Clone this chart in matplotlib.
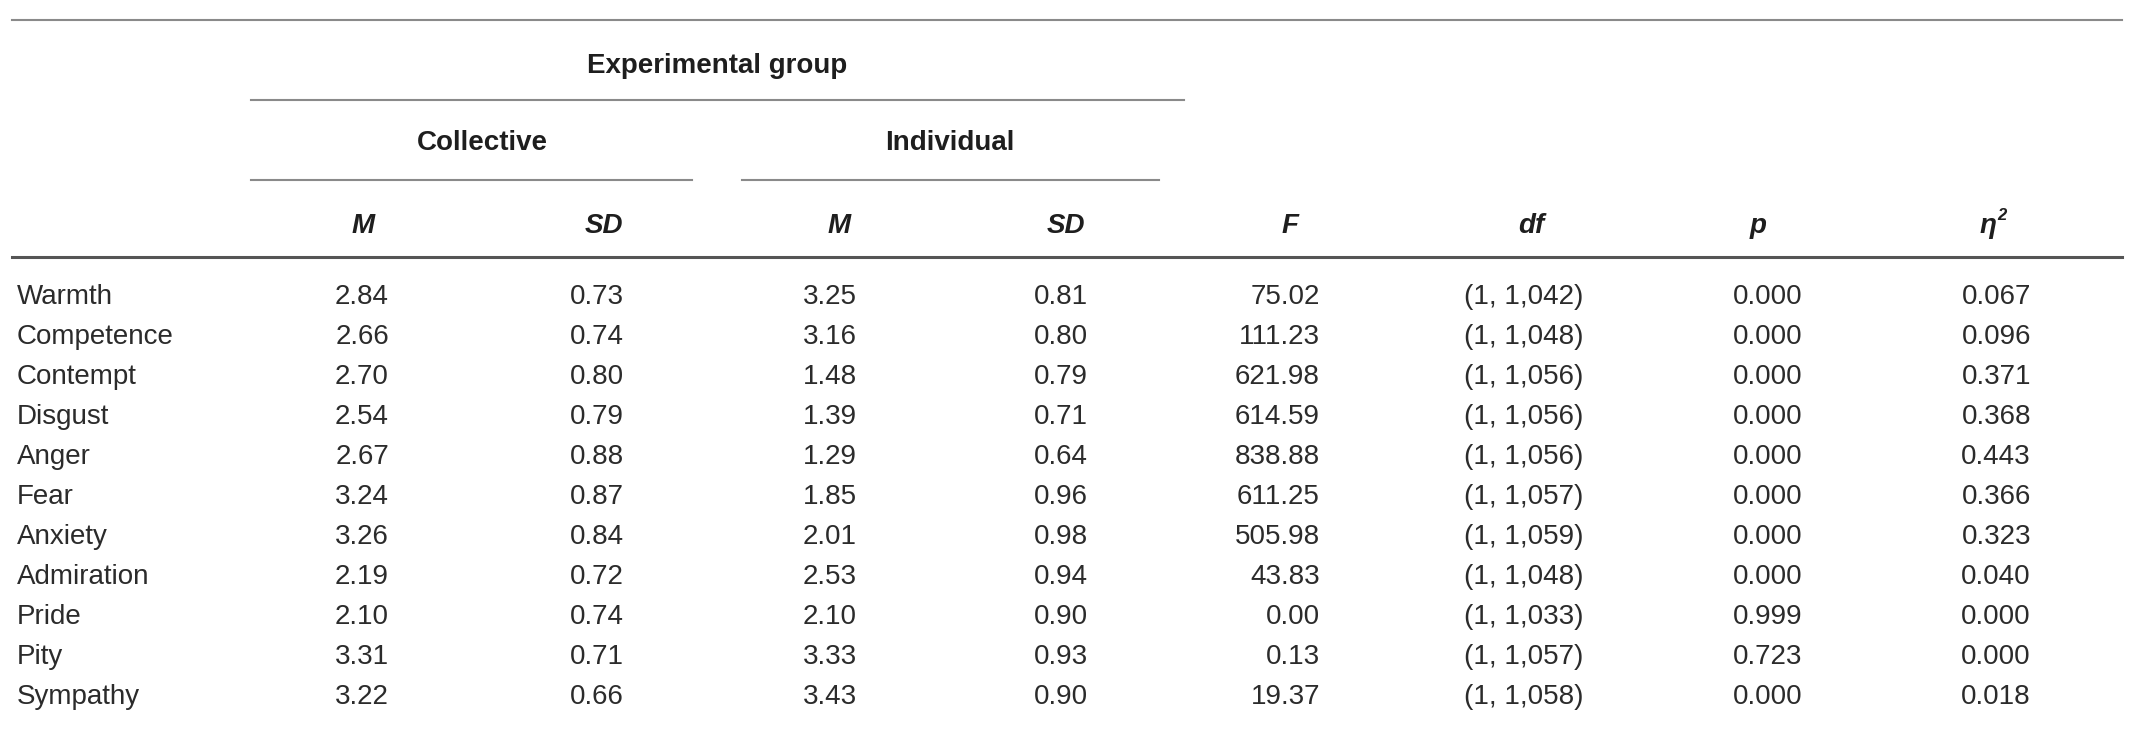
import matplotlib.pyplot as plt

# table data
emotions = ['Warmth', 'Competence', 'Contempt', 'Disgust', 'Anger', 'Fear',
            'Anxiety', 'Admiration', 'Pride', 'Pity', 'Sympathy']
coll_m = [2.84, 2.66, 2.70, 2.54, 2.67, 3.24, 3.26, 2.19, 2.10, 3.31, 3.22]
coll_sd = [0.73, 0.74, 0.80, 0.79, 0.88, 0.87, 0.84, 0.72, 0.74, 0.71, 0.66]
ind_m = [3.25, 3.16, 1.48, 1.39, 1.29, 1.85, 2.01, 2.53, 2.10, 3.33, 3.43]
ind_sd = [0.81, 0.80, 0.79, 0.71, 0.64, 0.96, 0.98, 0.94, 0.90, 0.93, 0.90]
f_vals = [75.02, 111.23, 621.98, 614.59, 838.88, 611.25, 505.98, 43.83, 0.00, 0.13, 19.37]
df_den = [1042, 1048, 1056, 1056, 1056, 1057, 1059, 1048, 1033, 1057, 1058]
p_vals = [0.000, 0.000, 0.000, 0.000, 0.000, 0.000, 0.000, 0.000, 0.999, 0.723, 0.000]
eta_sq = [0.067, 0.096, 0.371, 0.368, 0.443, 0.366, 0.323, 0.040, 0.000, 0.000, 0.018]

col_heads = ['M', 'SD', 'M', 'SD', 'F', 'df', 'p']

# layout (pixels)
W, H = 2140, 731
head_x = [363, 604, 839, 1066, 1290, 1531, 1758, 1990]
data_right = [389, 624, 857, 1088, 1320, 1583, 1802, 2031]
row_y0, row_step = 294, 40
fs = 20
txt = '#2b2b2b'
plt.rcParams['font.family'] = ['Liberation Sans', 'DejaVu Sans']

fig = plt.figure(figsize=(W / 100, H / 100), dpi=100)
ax = fig.add_axes([0, 0, 1, 1])
ax.set_xlim(0, W)
ax.set_ylim(H, 0)
ax.axis('off')

# rules
ax.plot([12, 2122], [20, 20], color='#8a8a8a', lw=1.5)
ax.plot([251, 1184], [100, 100], color='#8a8a8a', lw=1.5)
ax.plot([251, 692], [180, 180], color='#8a8a8a', lw=1.5)
ax.plot([742, 1159], [180, 180], color='#8a8a8a', lw=1.5)
ax.plot([12, 2122], [257, 257], color='#555555', lw=2.2)

# group headers
ax.text(717, 73, 'Experimental group', ha='center', va='baseline',
        fontsize=fs, fontweight='bold', color='#1e1e1e')
ax.text(482, 150, 'Collective', ha='center', va='baseline',
        fontsize=fs, fontweight='bold', color='#1e1e1e')
ax.text(950, 150, 'Individual', ha='center', va='baseline',
        fontsize=fs, fontweight='bold', color='#1e1e1e')

# column headers
for x, h in zip(head_x, col_heads):
    ax.text(x, 233, h, ha='center', va='baseline', fontsize=fs,
            fontweight='bold', fontstyle='italic', color='#1e1e1e')
ax.text(head_x[7] - 2, 233, '\u03b7', ha='center', va='baseline', fontsize=fs,
        fontweight='bold', fontstyle='italic', color='#1e1e1e')
ax.text(head_x[7] + 7, 220, '2', ha='left', va='baseline', fontsize=12,
        fontweight='bold', fontstyle='italic', color='#1e1e1e')

# body rows
for i, name in enumerate(emotions):
    y = row_y0 + i * row_step + 10
    ax.text(17, y, name, ha='left', va='baseline', fontsize=fs, color=txt)
    cells = [f'{coll_m[i]:.2f}', f'{coll_sd[i]:.2f}', f'{ind_m[i]:.2f}',
             f'{ind_sd[i]:.2f}', f'{f_vals[i]:.2f}', f'(1, {df_den[i]:,})',
             f'{p_vals[i]:.3f}', f'{eta_sq[i]:.3f}']
    for x, c in zip(data_right, cells):
        ax.text(x, y, c, ha='right', va='baseline', fontsize=fs, color=txt)

fig.savefig('out.png', dpi=100, facecolor='white')
